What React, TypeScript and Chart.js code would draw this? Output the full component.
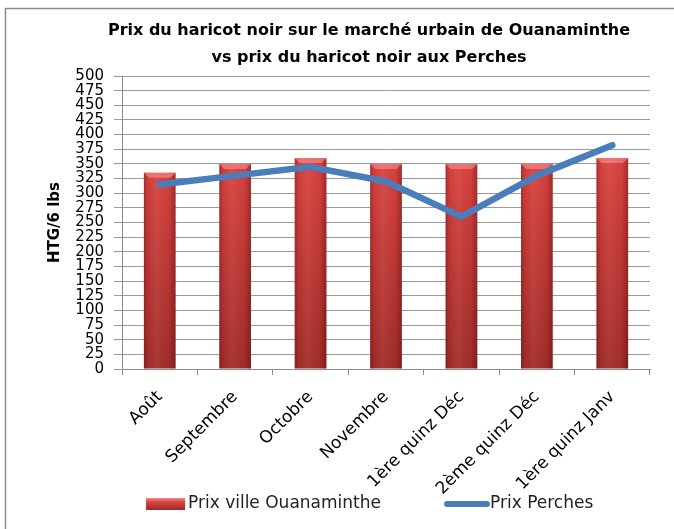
import React, { useEffect, useRef } from "react";
import { Chart, registerables } from "chart.js";

Chart.register(...registerables);

const categories = [
  "Août",
  "Septembre",
  "Octobre",
  "Novembre",
  "1ère quinz Déc",
  "2ème quinz Déc",
  "1ère quinz Janv",
];
const prixOuanaminthe = [335, 350, 360, 350, 350, 350, 360];
const prixPerches = [315, 330, 345, 320, 260, 330, 382];
const titleLines = [
  "Prix du haricot noir sur le marché urbain de Ouanaminthe",
  "vs prix du haricot noir aux Perches",
];
const yAxisTitle = "HTG/6 lbs";
const seriesNames = ["Prix ville Ouanaminthe", "Prix Perches"];
const yMin = 0;
const yMax = 500;
const yStep = 25;

const FONT = "'DejaVu Sans', sans-serif";
const BLUE = "#4A7EBB";

export default function App() {
  const ref = useRef<HTMLCanvasElement>(null);

  useEffect(() => {
    const canvas = ref.current;
    if (!canvas) return;

    const framePlugin = {
      id: "frame",
      beforeDraw(chart: any) {
        const c = chart.ctx;
        c.save();
        c.fillStyle = "#ffffff";
        c.fillRect(0, 0, chart.width, chart.height);
        c.strokeStyle = "#8c8c8c";
        c.lineWidth = 1.5;
        c.strokeRect(5.5, 8.5, chart.width + 20, chart.height + 20);
        c.restore();
      },
      afterDraw(chart: any) {
        const c = chart.ctx;
        c.save();
        // title
        c.fillStyle = "#000";
        c.font = `bold 16px ${FONT}`;
        c.textAlign = "center";
        c.textBaseline = "middle";
        c.fillText(titleLines[0], 369, 31);
        c.fillText(titleLines[1], 369, 58);
        // legend
        const ly = 504;
        const g = c.createLinearGradient(0, ly - 6, 0, ly + 6);
        g.addColorStop(0, "#F08A88");
        g.addColorStop(0.35, "#D9423F");
        g.addColorStop(1, "#9E2A28");
        c.fillStyle = g;
        c.fillRect(146, ly - 6, 39, 12);
        c.font = `17px ${FONT}`;
        c.textAlign = "left";
        c.fillStyle = "#222";
        c.fillText(seriesNames[0], 188, ly);
        c.strokeStyle = BLUE;
        c.lineWidth = 6;
        c.lineCap = "round";
        c.beginPath();
        c.moveTo(447, ly);
        c.lineTo(487, ly);
        c.stroke();
        c.fillText(seriesNames[1], 490, ly);
        c.restore();
      },
      afterDatasetDraw(chart: any, args: any) {
        if (args.index !== 0) return;
        const c = chart.ctx;
        const meta = chart.getDatasetMeta(0);
        c.save();
        meta.data.forEach((el: any) => {
          const { x, y, base, width } = el.getProps(["x", "y", "base", "width"], true);
          const l = x - width / 2;
          const hg = c.createLinearGradient(l, 0, l + width, 0);
          hg.addColorStop(0, "rgba(60,0,0,0.3)");
          hg.addColorStop(0.12, "rgba(60,0,0,0.06)");
          hg.addColorStop(0.4, "rgba(255,255,255,0.05)");
          hg.addColorStop(0.8, "rgba(60,0,0,0.04)");
          hg.addColorStop(1, "rgba(60,0,0,0.35)");
          c.fillStyle = hg;
          c.fillRect(l, y, width, base - y);
          // top bevel
          c.fillStyle = "rgba(255,150,150,0.55)";
          c.beginPath();
          c.moveTo(l, y);
          c.lineTo(l + width, y);
          c.lineTo(l + width - 5, y + 5);
          c.lineTo(l + 5, y + 5);
          c.closePath();
          c.fill();
        });
        c.restore();
      },
    };

    const chart = new Chart(canvas, {
      type: "bar",
      data: {
        labels: categories,
        datasets: [
          {
            type: "bar",
            label: seriesNames[0],
            data: prixOuanaminthe,
            order: 1,
            barPercentage: 0.42,
            categoryPercentage: 1,
            backgroundColor: (ctx: any) => {
              const area = ctx.chart.chartArea;
              if (!area) return "#C83B38";
              const g = ctx.chart.ctx.createLinearGradient(0, area.top + 80, 0, area.bottom);
              g.addColorStop(0, "#DB4441");
              g.addColorStop(1, "#A22D2A");
              return g;
            },
            borderWidth: 0,
          },
          {
            type: "line",
            label: seriesNames[1],
            data: prixPerches,
            order: 0,
            borderColor: BLUE,
            borderWidth: 6.5,
            pointRadius: 0,
            tension: 0,
            borderCapStyle: "round",
            borderJoinStyle: "round",
          },
        ],
      } as any,
      options: {
        responsive: false,
        animation: false,
        devicePixelRatio: 1,
        layout: { padding: { top: 76, left: 0, right: 24, bottom: 0 } },
        plugins: {
          legend: { display: false },
          title: { display: false },
          tooltip: { enabled: false },
        },
        scales: {
          x: {
            type: "category",
            offset: true,
            grid: {
              offset: true,
              drawOnChartArea: false,
              tickLength: 6,
              color: "#8c8c8c",
            },
            border: { color: "#8c8c8c" },
            ticks: {
              autoSkip: false,
              maxRotation: 45,
              minRotation: 45,
              padding: 12,
              color: "#000",
              font: { family: FONT, size: 17 },
            },
            afterFit(scale: any) {
              scale.height = 160;
            },
          },
          y: {
            min: yMin,
            max: yMax,
            ticks: {
              stepSize: yStep,
              autoSkip: false,
              padding: 10,
              color: "#000",
              font: { family: FONT, size: 15 },
            },
            grid: { color: "#9a9a9a", tickLength: 8 },
            border: { color: "#8c8c8c" },
            title: {
              display: true,
              text: yAxisTitle,
              color: "#000",
              font: { family: FONT, size: 15, weight: "bold" },
              padding: { top: 46, bottom: 0 },
            },
            afterFit(scale: any) {
              scale.width = 122;
            },
          },
        },
      } as any,
      plugins: [framePlugin],
    });

    return () => chart.destroy();
  }, []);

  return (
    <div style={{ position: "fixed", left: 0, top: 0, width: 674, height: 529 }}>
      <canvas ref={ref} width={674} height={529} style={{ display: "block" }} />
    </div>
  );
}
